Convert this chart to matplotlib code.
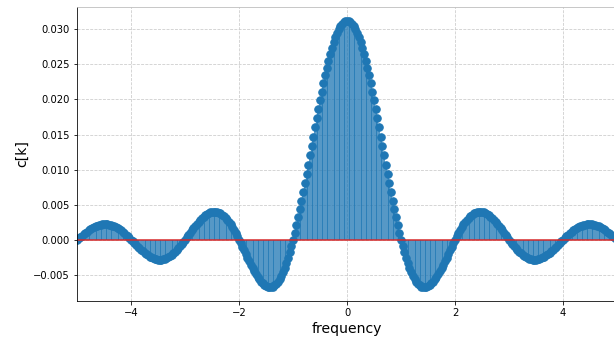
import numpy as np
from matplotlib import pyplot as plt

# stem values for k = 0 .. 160 (the plot is symmetric about 0)
c_half = [
    0.031250, 0.031200, 0.031050, 0.030800, 0.030453, 0.030010, 0.029474, 0.028848,
    0.028135, 0.027340, 0.026467, 0.025520, 0.024507, 0.023431, 0.022300, 0.021118,
    0.019894, 0.018634, 0.017344, 0.016032, 0.014704, 0.013368, 0.012030, 0.010698,
    0.009378, 0.008077, 0.006802, 0.005557, 0.004350, 0.003186, 0.002070, 0.001006,
    0.000000, -0.000945, -0.001826, -0.002640, -0.003384, -0.004055, -0.004654, -0.005178,
    -0.005627, -0.006001, -0.006302, -0.006528, -0.006684, -0.006769, -0.006787, -0.006740,
    -0.006631, -0.006465, -0.006244, -0.005973, -0.005655, -0.005297, -0.004901, -0.004474,
    -0.004019, -0.003543, -0.003049, -0.002543, -0.002030, -0.001515, -0.001002, -0.000495,
    0.000000, 0.000480, 0.000941, 0.001379, 0.001791, 0.002175, 0.002526, 0.002844,
    0.003126, 0.003371, 0.003577, 0.003743, 0.003869, 0.003956, 0.004003, 0.004010,
    0.003979, 0.003911, 0.003807, 0.003670, 0.003501, 0.003303, 0.003078, 0.002828,
    0.002558, 0.002269, 0.001965, 0.001649, 0.001324, 0.000994, 0.000661, 0.000328,
    0.000000, -0.000322, -0.000634, -0.000933, -0.001218, -0.001486, -0.001734, -0.001961,
    -0.002164, -0.002343, -0.002497, -0.002624, -0.002723, -0.002795, -0.002838, -0.002854,
    -0.002842, -0.002803, -0.002739, -0.002649, -0.002535, -0.002399, -0.002243, -0.002068,
    -0.001876, -0.001669, -0.001450, -0.001220, -0.000982, -0.000739, -0.000493, -0.000246,
    0.000000, 0.000242, 0.000478, 0.000705, 0.000923, 0.001128, 0.001320, 0.001496,
    0.001655, 0.001796, 0.001918, 0.002020, 0.002101, 0.002160, 0.002199, 0.002215,
    0.002210, 0.002185, 0.002138, 0.002072, 0.001987, 0.001884, 0.001764, 0.001630,
    0.001481, 0.001320, 0.001148, 0.000968, 0.000781, 0.000589, 0.000393, 0.000196,
    0.000000,
]
k_step = 32  # samples per unit of frequency

c_half = np.array(c_half)
c = np.concatenate([c_half[:0:-1], c_half])
k = np.arange(-(len(c_half) - 1), len(c_half))
freq = k / k_step

fig = plt.figure(figsize=(614 / 72, 341 / 72), dpi=72)
ax = fig.add_axes([0.1254, 0.1185, 0.8796, 0.8601])

ax.grid(True, linestyle="--", color="#cccccc", linewidth=0.8)
ax.set_axisbelow(True)
markerline, stemlines, baseline = ax.stem(freq, c)
markerline.set_markersize(7.5)

ax.set_xlim(-5, 5)
ax.set_xlabel("frequency", fontsize=14)
ax.set_ylabel("c[k]", fontsize=14)
ax.spines["top"].set_color("#bbbbbb")
ax.spines["right"].set_color("#bbbbbb")

fig.savefig("out.png", dpi=72)
